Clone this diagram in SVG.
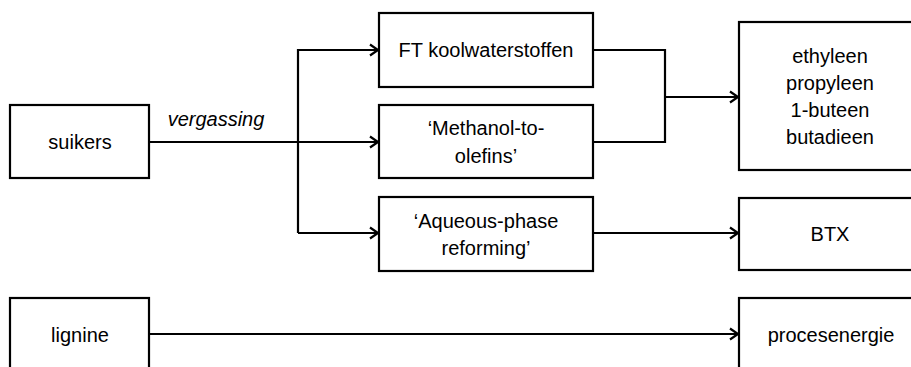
<svg xmlns="http://www.w3.org/2000/svg" width="911" height="367" viewBox="0 0 911 367">
<style>
.box{fill:#fff;stroke:#000;stroke-width:2.2}
.t{font-family:"Liberation Sans",Arial,sans-serif;font-size:20px;fill:#000;text-anchor:middle}
.c{fill:none;stroke:#000;stroke-width:2.2}
</style>
<defs>
<marker id="a" markerWidth="12" markerHeight="14" refX="10" refY="7" orient="auto" markerUnits="userSpaceOnUse">
<path d="M2,1.5 L10,7 L2,12.5" fill="none" stroke="#000" stroke-width="2.2"/>
</marker>
</defs>
<rect width="911" height="367" fill="#fff"/>
<g id="connectors">
<path class="c" d="M149,142 H298"/>
<path class="c" d="M298,233 V50 H378" marker-end="url(#a)"/>
<path class="c" d="M298,142 H378" marker-end="url(#a)"/>
<path class="c" d="M298,233 H378" marker-end="url(#a)"/>
<path class="c" d="M593,50 H665 V142 H593"/>
<path class="c" d="M665,97 H738" marker-end="url(#a)"/>
<path class="c" d="M593,233 H738" marker-end="url(#a)"/>
<path class="c" d="M149,334 H738" marker-end="url(#a)"/>
<text x="216" y="126" class="t" style="font-style:italic">vergassing</text>
</g>
<g id="suikers"><rect class="box" x="10" y="105" width="139" height="73"/><text class="t" x="80" y="149">suikers</text></g>
<g id="ft"><rect class="box" x="379" y="13" width="214" height="74"/><text class="t" x="486" y="57">FT koolwaterstoffen</text></g>
<g id="mto"><rect class="box" x="379" y="105" width="214" height="73"/><text class="t" x="486" y="135">‘Methanol-to-</text><text class="t" x="486" y="163">olefins’</text></g>
<g id="apr"><rect class="box" x="379" y="197" width="214" height="74"/><text class="t" x="486" y="228">‘Aqueous-phase</text><text class="t" x="486" y="255">reforming’</text></g>
<g id="olefins"><rect class="box" x="739" y="22" width="182" height="148"/><text class="t" x="830" y="63">ethyleen</text><text class="t" x="830" y="90">propyleen</text><text class="t" x="830" y="117">1-buteen</text><text class="t" x="830" y="144">butadieen</text></g>
<g id="btx"><rect class="box" x="739" y="198" width="182" height="72"/><text class="t" x="830" y="241">BTX</text></g>
<g id="lignine"><rect class="box" x="10" y="298" width="139" height="80"/><text class="t" x="80" y="342">lignine</text></g>
<g id="proces"><rect class="box" x="739" y="298" width="182" height="80"/><text class="t" x="831" y="342">procesenergie</text></g>
</svg>
